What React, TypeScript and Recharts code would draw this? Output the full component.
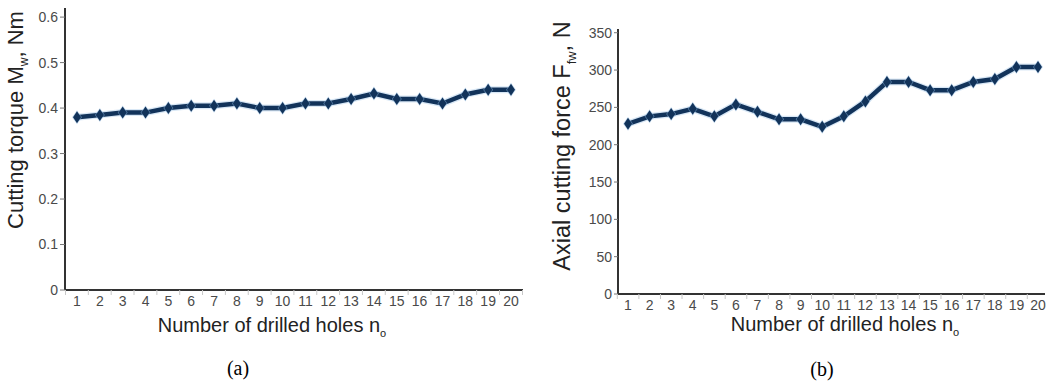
import { LineChart, Line, XAxis, YAxis } from "recharts";

// number of drilled holes
const holes = [1, 2, 3, 4, 5, 6, 7, 8, 9, 10, 11, 12, 13, 14, 15, 16, 17, 18, 19, 20];
// (a) cutting torque Mw, Nm
const torque = [0.38, 0.385, 0.39, 0.39, 0.4, 0.405, 0.405, 0.41, 0.4, 0.4, 0.41, 0.41, 0.42, 0.432, 0.42, 0.42, 0.41, 0.43, 0.44, 0.44];
// (b) axial cutting force Ffw, N
const force = [228, 238, 241, 248, 238, 254, 244, 234, 234, 224, 238, 258, 284, 284, 273, 273, 284, 288, 304, 304];

const torqueTicks = [0, 0.1, 0.2, 0.3, 0.4, 0.5, 0.6];
const forceTicks = [0, 50, 100, 150, 200, 250, 300, 350];

const torqueData = holes.map((n, i) => ({ n, v: torque[i] }));
const forceData = holes.map((n, i) => ({ n, v: force[i] }));

const NAVY = "#12335a";
const GLOW = "#8fbbe3";
const FONT = "Liberation Sans, Arial, sans-serif";

const Diamond = (props: any) => {
  const { cx, cy } = props;
  if (cx == null || cy == null) return null;
  return (
    <g>
      <polygon points={`${cx},${cy - 7} ${cx + 5},${cy} ${cx},${cy + 7} ${cx - 5},${cy}`} fill={GLOW} opacity={0.5} />
      <polygon points={`${cx},${cy - 6} ${cx + 4},${cy} ${cx},${cy + 6} ${cx - 4},${cy}`} fill={NAVY} />
    </g>
  );
};

const makeXTick = (half: number, count: number) => (props: any) => {
  const { x, y, payload, index } = props;
  return (
    <g>
      <line x1={x - half} x2={x - half} y1={y - 4} y2={y + 1} stroke="#c8c8c8" strokeWidth={1} />
      {index === count - 1 && <line x1={x + half} x2={x + half} y1={y - 4} y2={y + 1} stroke="#c8c8c8" strokeWidth={1} />}
      <text x={x} y={y} dy="0.85em" textAnchor="middle" fontSize={14} fill="#4a4a4a" fontFamily={FONT}>
        {payload.value}
      </text>
    </g>
  );
};

function Panel({ data, ticks, domain, width, yAxisWidth, margin, xHeight, pad, half, tickSize, tickFmt }: any) {
  return (
    <LineChart width={width} height={385} data={data} margin={margin}>
      <XAxis
        dataKey="n"
        height={xHeight}
        padding={pad}
        axisLine={{ stroke: "#333", strokeWidth: 2 }}
        tickLine={false}
        tickSize={0}
        tickMargin={4}
        interval={0}
        tick={makeXTick(half, data.length)}
      />
      <YAxis
        width={yAxisWidth}
        domain={domain}
        ticks={ticks}
        allowDataOverflow
        axisLine={{ stroke: "#333", strokeWidth: 2 }}
        tickLine={{ stroke: "#777" }}
        tickSize={tickSize}
        tickMargin={2}
        tickFormatter={tickFmt}
        tick={{ fontSize: 14, fill: "#4a4a4a", fontFamily: FONT }}
      />
      <Line dataKey="v" stroke={GLOW} strokeWidth={7} strokeOpacity={0.35} dot={false} isAnimationActive={false} />
      <Line dataKey="v" stroke={NAVY} strokeWidth={4.5} dot={<Diamond />} activeDot={false} isAnimationActive={false} />
    </LineChart>
  );
}

const yTitle: React.CSSProperties = {
  position: "absolute",
  transform: "translate(-50%, -50%) rotate(-90deg)",
  whiteSpace: "nowrap",
  color: "#222",
  fontFamily: FONT,
};
const xTitle: React.CSSProperties = {
  position: "absolute",
  transform: "translate(-50%, -50%)",
  whiteSpace: "nowrap",
  color: "#222",
  fontFamily: FONT,
  fontSize: 20,
};
const caption: React.CSSProperties = {
  position: "absolute",
  transform: "translate(-50%, -50%)",
  fontFamily: "Liberation Serif, Times New Roman, serif",
  fontSize: 20,
  color: "#000",
};

export default function App() {
  return (
    <div style={{ position: "absolute", left: 0, top: 0, width: 1046, height: 385, background: "#fff", overflow: "hidden" }}>
      <div style={{ position: "absolute", left: 0, top: 0 }}>
        <Panel
          data={torqueData}
          ticks={torqueTicks}
          domain={[0, 0.62]}
          width={540}
          yAxisWidth={65}
          margin={{ top: 8, right: 17, bottom: 0, left: 0 }}
          xHeight={95}
          pad={{ left: 12, right: 12 }}
          half={11.5}
          tickSize={5}
          tickFmt={(v: number) => (v === 0 ? "0" : v.toFixed(1))}
        />
      </div>
      <div style={{ position: "absolute", left: 540, top: 0 }}>
        <Panel
          data={forceData}
          ticks={forceTicks}
          domain={[0, 355]}
          width={506}
          yAxisWidth={78}
          margin={{ top: 29, right: 1, bottom: 0, left: 0 }}
          xHeight={91}
          pad={{ left: 10, right: 7 }}
          half={10.7}
          tickSize={4}
          tickFmt={(v: number) => String(v)}
        />
      </div>

      <div style={{ ...yTitle, left: 17, top: 120, fontSize: 22 }}>
        Cutting torque M<sub style={{ fontSize: "0.55em" }}>w</sub>, Nm
      </div>
      <div style={{ ...yTitle, left: 564, top: 146, fontSize: 23.5 }}>
        Axial cutting force F<sub style={{ fontSize: "0.55em" }}>fw</sub>, N
      </div>

      <div style={{ ...xTitle, left: 272, top: 326 }}>
        Number of drilled holes n<sub style={{ fontSize: "0.55em" }}>o</sub>
      </div>
      <div style={{ ...xTitle, left: 845, top: 325 }}>
        Number of drilled holes n<sub style={{ fontSize: "0.55em" }}>o</sub>
      </div>

      <div style={{ ...caption, left: 238, top: 368 }}>(a)</div>
      <div style={{ ...caption, left: 822, top: 369 }}>(b)</div>
    </div>
  );
}
